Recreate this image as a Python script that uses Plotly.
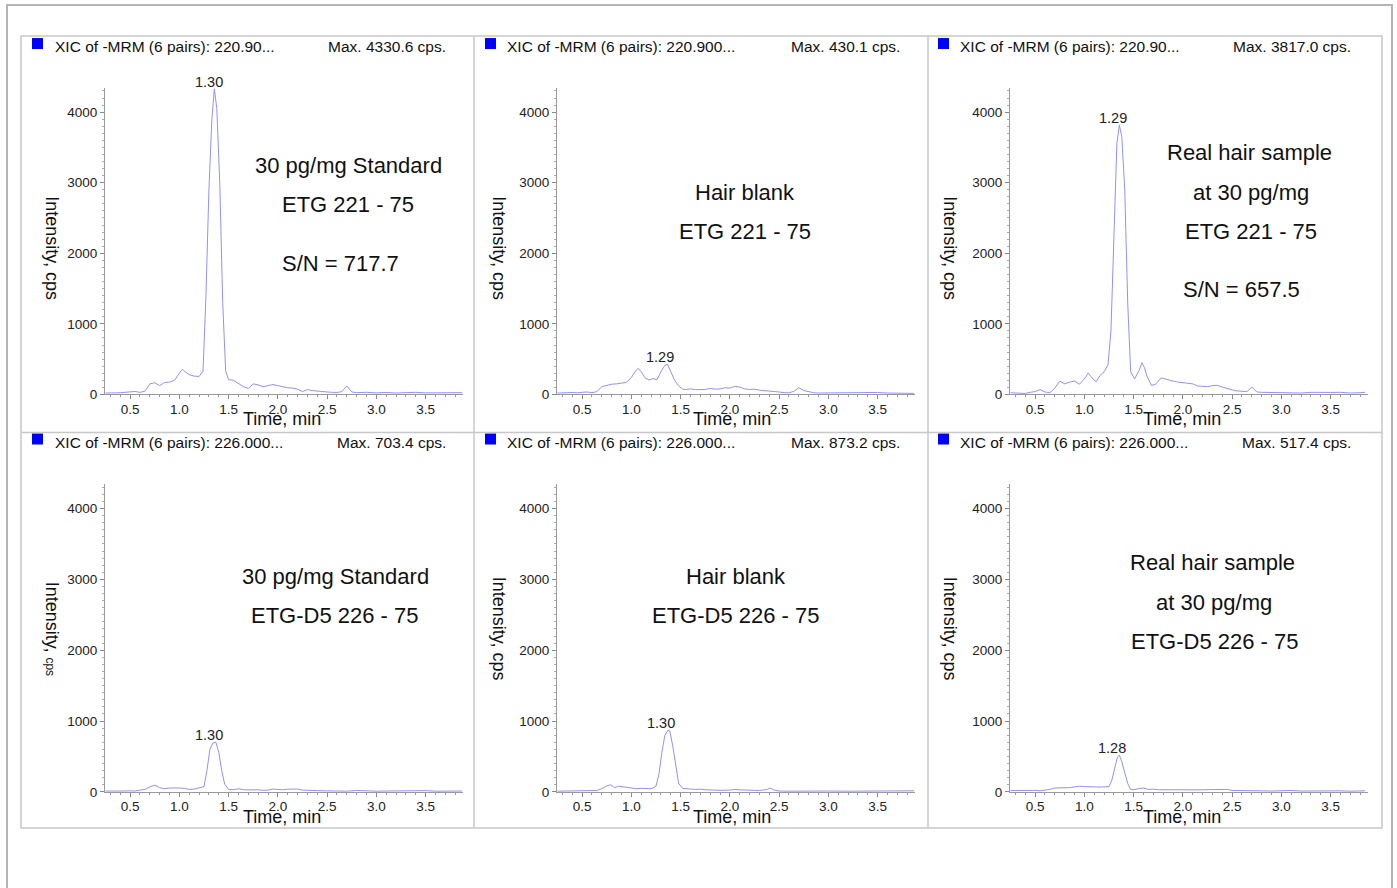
import plotly.graph_objects as go

# ---------------- data ----------------
t_etg_std = [0.25,0.30,0.35,0.40,0.45,0.50,0.55,0.60,0.65,0.70,0.75,0.80,0.85,0.90,0.95,1.00,1.03,1.06,1.10,1.15,1.20,1.24,1.27,1.30,1.33,1.355,1.38,1.41,1.44,1.47,1.50,1.55,1.60,1.65,1.70,1.75,1.80,1.85,1.90,1.95,2.00,2.05,2.10,2.15,2.20,2.25,2.30,2.35,2.40,2.45,2.50,2.55,2.60,2.65,2.70,2.75,2.80,2.90,3.00,3.10,3.20,3.30,3.40,3.50,3.60,3.70,3.80,3.87]
i_etg_std = [20,18,22,25,30,38,42,30,45,150,165,125,170,175,200,300,355,320,280,260,255,330,1400,2900,3900,4330,4050,3000,1300,330,210,200,160,110,85,150,135,110,125,140,125,105,95,90,75,40,70,55,45,40,35,30,28,40,120,35,25,30,22,28,20,25,30,22,25,18,22,25]

t_etg_blank = [0.25,0.30,0.35,0.40,0.45,0.50,0.55,0.60,0.65,0.70,0.75,0.80,0.85,0.90,0.95,1.00,1.04,1.07,1.10,1.14,1.18,1.22,1.26,1.30,1.33,1.365,1.40,1.44,1.48,1.52,1.56,1.60,1.65,1.70,1.75,1.80,1.85,1.90,1.95,2.00,2.05,2.10,2.15,2.20,2.25,2.30,2.35,2.40,2.45,2.50,2.55,2.60,2.65,2.70,2.75,2.80,2.85,2.90,3.00,3.10,3.20,3.30,3.40,3.50,3.60,3.70,3.80,3.87]
i_etg_blank = [20,18,25,28,22,30,35,25,40,110,130,145,150,165,170,240,330,370,320,235,205,225,210,320,395,430,330,200,120,75,70,80,68,72,70,85,75,78,95,90,115,105,80,70,75,60,55,55,45,35,25,22,45,95,55,35,25,20,22,18,20,30,25,28,20,15,18,15]

t_etg_real = [0.25,0.30,0.35,0.40,0.45,0.50,0.55,0.60,0.65,0.70,0.75,0.80,0.85,0.90,0.95,1.00,1.04,1.08,1.12,1.16,1.20,1.24,1.27,1.30,1.33,1.355,1.38,1.41,1.44,1.47,1.51,1.555,1.585,1.61,1.635,1.68,1.72,1.78,1.85,1.90,1.95,2.00,2.05,2.10,2.15,2.20,2.25,2.30,2.35,2.40,2.45,2.50,2.55,2.60,2.65,2.70,2.75,2.80,2.90,3.00,3.10,3.20,3.30,3.40,3.50,3.60,3.70,3.80,3.85]
i_etg_real = [24,20,15,14,30,40,70,35,25,90,190,150,175,190,145,220,305,230,180,270,320,420,900,2300,3550,3817,3650,2900,1300,320,220,340,450,380,260,130,140,235,215,190,175,170,165,150,120,110,110,125,130,105,80,65,50,45,40,105,35,30,28,25,22,20,30,25,28,30,20,25,30]

t_d5_std = [0.25,0.30,0.35,0.40,0.45,0.50,0.55,0.60,0.65,0.70,0.75,0.80,0.85,0.90,0.95,1.00,1.05,1.10,1.15,1.20,1.25,1.28,1.31,1.34,1.37,1.40,1.43,1.46,1.50,1.55,1.60,1.65,1.70,1.75,1.80,1.85,1.90,1.95,2.00,2.05,2.10,2.15,2.20,2.25,2.30,2.40,2.50,2.60,2.70,2.80,2.90,3.00,3.10,3.20,3.30,3.40,3.50,3.60,3.70,3.80,3.87]
i_d5_std = [12,10,12,10,12,15,12,25,35,70,95,60,45,55,60,55,50,35,40,55,75,300,600,690,703,560,300,110,35,30,45,30,25,28,30,22,25,40,35,30,38,42,40,25,20,18,15,12,10,20,12,10,12,15,10,12,18,10,12,10,12]

t_d5_blank = [0.25,0.30,0.35,0.40,0.45,0.50,0.55,0.60,0.65,0.70,0.75,0.79,0.83,0.87,0.91,0.95,1.00,1.05,1.10,1.15,1.20,1.25,1.28,1.31,1.34,1.37,1.39,1.42,1.45,1.48,1.52,1.56,1.60,1.65,1.70,1.75,1.80,1.90,2.00,2.05,2.10,2.20,2.30,2.38,2.41,2.45,2.50,2.60,2.70,2.80,2.90,3.00,3.20,3.40,3.60,3.80,3.87]
i_d5_blank = [10,12,10,15,18,20,12,15,20,45,85,100,60,80,70,60,55,45,50,45,45,80,250,560,800,870,860,650,350,120,50,40,40,35,38,30,25,22,25,35,28,22,20,35,55,25,12,10,12,10,10,12,10,10,12,10,15]

t_d5_real = [0.25,0.30,0.35,0.40,0.45,0.50,0.55,0.60,0.65,0.70,0.75,0.80,0.85,0.90,0.95,1.00,1.05,1.10,1.15,1.20,1.25,1.28,1.31,1.335,1.355,1.38,1.41,1.44,1.47,1.50,1.55,1.60,1.65,1.70,1.75,1.80,1.90,2.00,2.10,2.20,2.30,2.40,2.45,2.50,2.60,2.70,2.80,2.90,3.00,3.10,3.20,3.30,3.40,3.50,3.60,3.70,3.80,3.85]
i_d5_real = [18,20,15,20,18,22,15,20,35,55,55,50,60,70,80,75,70,72,68,70,75,170,370,490,517,430,270,120,35,30,45,55,35,38,30,28,25,30,28,32,38,42,35,20,15,12,15,12,15,20,12,15,10,12,15,10,12,15]

times = [t_etg_std, t_etg_blank, t_etg_real, t_d5_std, t_d5_blank, t_d5_real]
intensities = [i_etg_std, i_etg_blank, i_etg_real, i_d5_std, i_d5_blank, i_d5_real]

header_left = ["XIC of -MRM (6 pairs): 220.90...", "XIC of -MRM (6 pairs): 220.900...",
               "XIC of -MRM (6 pairs): 220.90...", "XIC of -MRM (6 pairs): 226.000...",
               "XIC of -MRM (6 pairs): 226.000...", "XIC of -MRM (6 pairs): 226.000..."]
header_right = ["Max. 4330.6 cps.", "Max. 430.1 cps.", "Max. 3817.0 cps.",
                "Max. 703.4 cps.", "Max. 873.2 cps.", "Max. 517.4 cps."]
peak_rt = [1.30, 1.29, 1.29, 1.30, 1.30, 1.28]
peak_label = ["1.30", "1.29", "1.29", "1.30", "1.30", "1.28"]
thresholds = [200, 0, 200, 0, 0, 0]
panel_text = [
    ["30 pg/mg Standard", "ETG 221 - 75", "S/N = 717.7"],
    ["Hair blank", "ETG 221 - 75"],
    ["Real hair sample", "at 30 pg/mg", "ETG 221 - 75", "S/N = 657.5"],
    ["30 pg/mg Standard", "ETG-D5 226 - 75"],
    ["Hair blank", "ETG-D5 226 - 75"],
    ["Real hair sample", "at 30 pg/mg", "ETG-D5 226 - 75"],
]
x_tick_vals = [0.5, 1.0, 1.5, 2.0, 2.5, 3.0, 3.5]
x_tick_text = ["0.5", "1.0", "1.5", "2.0", "2.5", "3.0", "3.5"]
y_tick_vals = [0, 1000, 2000, 3000, 4000]
y_tick_text = ["0", "1000", "2000", "3000", "4000"]

# ---------------- layout geometry (pixels) ----------------
W, H = 1397, 897          # page height; the capture maps it onto 888 rows
SY = 897 / 888            # target-image px -> page px (vertical)
FONT = "Liberation Sans, Arial, sans-serif"
X_MIN, X_MAX = 0.245, 3.88
Y_MAX = 4345
PX_PER_MIN = 98.5
col_x0 = [105, 557, 1010]
row_y0 = [394, 791]            # image pixel y of intensity 0
row_scale = [0.0705, 0.07075]  # image px per cps

def fx(px):
    return px / W

def fy(py):
    return 1 - (py * SY) / H

text_pos = [
    [(348, 165), (348, 204), (340, 263)],
    [(745, 192), (745, 231)],
    [(1249, 152), (1251, 192), (1251, 231), (1241, 289)],
    [(335, 576), (335, 615)],
    [(736, 576), (736, 615)],
    [(1212, 562), (1214, 602), (1215, 641)],
]
hdr_left_x = [53, 505, 958]
hdr_right_x = [448, 902, 1353]
hdr_y = [46, 442]
square_x = [32, 485, 938]
square_y = [38, 433]
time_title_x = [282, 732, 1182]
time_title_y = [419, 816]
int_title_x = [52, 499, 950]
int_title_y = [248, 628]

fig = go.Figure()
layout = {}
annotations = []
shapes = []

for i in range(6):
    r, c = divmod(i, 3)
    sfx = "" if i == 0 else str(i + 1)
    xa, ya = "x" + sfx, "y" + sfx
    fig.add_trace(go.Scatter(x=times[i], y=intensities[i], mode="lines",
                             line=dict(color="#9090ff", width=1),
                             xaxis=xa, yaxis=ya, showlegend=False, hoverinfo="skip"))
    fig.add_trace(go.Scatter(x=[X_MIN - 4.5 / PX_PER_MIN], y=[thresholds[i]], mode="markers",
                             marker=dict(symbol="triangle-right", size=10, color="#0000dd",
                                         line=dict(width=0)),
                             cliponaxis=False, xaxis=xa, yaxis=ya, showlegend=False,
                             hoverinfo="skip"))
    x0 = col_x0[c]
    x1 = x0 + (X_MAX - X_MIN) * PX_PER_MIN
    y0 = row_y0[r]
    y1 = y0 - Y_MAX * row_scale[r]
    layout["xaxis" + sfx] = dict(
        domain=[fx(x0), fx(x1)], anchor=ya, range=[X_MIN, X_MAX],
        tickmode="array", tickvals=x_tick_vals, ticktext=x_tick_text,
        ticks="outside", ticklen=4, tickcolor="#888", tickwidth=1,
        ticklabelstandoff=-2,
        minor=dict(tickmode="linear", tick0=0, dtick=0.1, ticks="outside",
                   ticklen=2, tickcolor="#999"),
        showline=True, linecolor="#9a9a9a", linewidth=1,
        showgrid=False, zeroline=False,
        tickfont=dict(family=FONT, size=13.5, color="#222"),
    )
    layout["yaxis" + sfx] = dict(
        domain=[fy(y0), fy(y1)], anchor=xa, range=[0, Y_MAX],
        tickmode="array", tickvals=y_tick_vals, ticktext=y_tick_text,
        ticks="outside", ticklen=4, tickcolor="#888", tickwidth=1,
        minor=dict(tickmode="linear", tick0=0, dtick=100, ticks="outside",
                   ticklen=2, tickcolor="#aaa"),
        showline=True, linecolor="#9a9a9a", linewidth=1,
        showgrid=False, zeroline=False,
        tickfont=dict(family=FONT, size=13.5, color="#222"),
    )
    # peak label
    annotations.append(dict(xref=xa, yref=ya, x=peak_rt[i], y=max(intensities[i]),
                            text=peak_label[i], showarrow=False, yanchor="middle",
                            xanchor="center", yshift=7,
                            font=dict(family=FONT, size=14.5, color="#222")))
    # condition text
    for txt, (px, py) in zip(panel_text[i], text_pos[i]):
        annotations.append(dict(xref="paper", yref="paper", x=fx(px), y=fy(py),
                                text=txt, showarrow=False, xanchor="center", yanchor="middle",
                                font=dict(family=FONT, size=22, color="#111")))
    # headers
    annotations.append(dict(xref="paper", yref="paper", x=fx(hdr_left_x[c]), y=fy(hdr_y[r]),
                            text=header_left[i], showarrow=False, xanchor="left",
                            yanchor="middle", font=dict(family=FONT, size=15.5, color="#111")))
    annotations.append(dict(xref="paper", yref="paper", x=fx(hdr_right_x[c]), y=fy(hdr_y[r]),
                            text=header_right[i], showarrow=False, xanchor="right",
                            yanchor="middle", font=dict(family=FONT, size=15.5, color="#111")))
    shapes.append(dict(type="rect", xref="paper", yref="paper",
                       x0=fx(square_x[c]), x1=fx(square_x[c] + 11),
                       y0=fy(square_y[r]), y1=fy(square_y[r] + 11),
                       fillcolor="#0000ff", line=dict(width=0)))
    # axis titles
    annotations.append(dict(xref="paper", yref="paper", x=fx(time_title_x[c]),
                            y=fy(time_title_y[r]), text="Time, min", showarrow=False,
                            xanchor="center", yanchor="middle",
                            font=dict(family=FONT, size=18, color="#111")))
    ytitle = ("Intensity, <span style='font-size:12px'>cps</span>" if i == 3
              else "Intensity, cps")
    annotations.append(dict(xref="paper", yref="paper", x=fx(int_title_x[c]),
                            y=fy(int_title_y[r]), text=ytitle, showarrow=False,
                            textangle=90, xanchor="center", yanchor="middle",
                            font=dict(family=FONT, size=18, color="#111")))

# frames
shapes.append(dict(type="rect", xref="paper", yref="paper", x0=fx(7), x1=fx(1392),
                   y0=fy(920), y1=fy(5), line=dict(color="#b4b4b4", width=2)))
shapes.append(dict(type="rect", xref="paper", yref="paper", x0=fx(21), x1=fx(1382),
                   y0=fy(827), y1=fy(36), line=dict(color="#c8c8c8", width=1.5)))
for vx in [474, 928]:
    shapes.append(dict(type="line", xref="paper", yref="paper", x0=fx(vx), x1=fx(vx),
                       y0=fy(827), y1=fy(36), line=dict(color="#c8c8c8", width=1.5)))
shapes.append(dict(type="line", xref="paper", yref="paper", x0=fx(21), x1=fx(1382),
                   y0=fy(432), y1=fy(432), line=dict(color="#c8c8c8", width=1.5)))

fig.update_layout(
    width=W, height=H, margin=dict(l=0, r=0, t=0, b=0),
    paper_bgcolor="white", plot_bgcolor="white",
    font=dict(family=FONT, color="#111"),
    annotations=annotations, shapes=shapes, showlegend=False,
    **layout,
)

post = (
    "document.documentElement.style.margin='0';"
    "document.documentElement.style.padding='0';"
    "document.documentElement.style.overflow='hidden';"
    "document.body.style.margin='0';"
    "document.body.style.padding='0';"
    "document.body.style.overflow='hidden';"
    "var gd=document.getElementById('{plot_id}');"
    "gd.style.position='absolute';gd.style.left='0px';gd.style.top='0px';"
)
fig.write_html("out.html", include_plotlyjs=True, config={"displayModeBar": False},
               post_script=post)
